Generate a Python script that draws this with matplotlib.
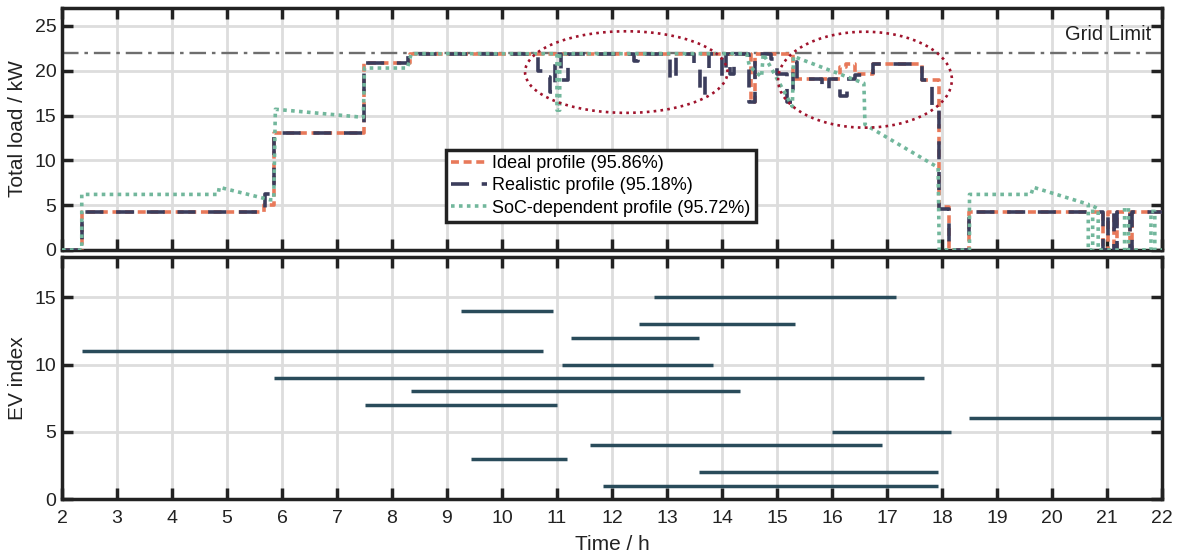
import matplotlib
matplotlib.use("Agg")
import matplotlib.pyplot as plt
from matplotlib.patches import Ellipse

plt.rcParams['font.family'] = ['Liberation Sans', 'DejaVu Sans']

# ---------------- data ----------------
grid_limit = 22.0

# Ideal profile (step, post)
ideal_t = [2.0, 2.36, 5.68, 5.85, 7.50, 8.33, 14.52, 14.60, 15.30, 16.15, 16.25, 16.42, 16.75,
           17.64, 17.94, 18.12, 18.50, 20.92, 21.02, 21.12, 21.18, 21.41, 21.45, 22.0]
ideal_v = [0.0, 4.2, 5.0, 13.0, 20.9, 21.9, 16.5, 21.9, 19.1, 20.4, 20.7, 19.6, 20.7,
           19.0, 4.8, 0.0, 4.2, 0.0, 4.2, 0.0, 4.2, 0.0, 4.2, 4.2]

# Realistic profile (step, post)
real_t = [2.0, 2.36, 5.70, 5.85, 7.50, 8.30, 10.65, 10.80, 10.88, 10.96, 11.08, 11.20,
          12.40, 12.47, 13.05, 13.17, 13.50, 13.60, 13.70, 13.76, 14.00, 14.08, 14.15, 14.22,
          14.50, 14.60, 14.90, 15.00, 15.18, 15.30, 15.36, 15.82, 15.94, 16.15, 16.28, 16.42,
          16.75, 17.64, 17.82, 17.94, 18.12, 18.50, 20.92, 21.02, 21.12, 21.18, 21.41, 21.45, 22.0]
real_v = [0.0, 4.2, 6.3, 13.0, 20.9, 21.9, 20.0, 19.3, 17.6, 21.9, 19.0, 21.9,
          21.1, 21.9, 19.0, 21.9, 20.2, 17.3, 19.5, 21.9, 19.4, 21.9, 19.6, 21.9,
          16.5, 21.9, 21.3, 19.6, 16.5, 21.0, 19.1, 18.0, 19.1, 17.2, 19.1, 19.5,
          20.7, 19.0, 16.0, 4.6, 0.0, 4.2, 0.0, 4.2, 0.0, 4.2, 0.0, 4.2, 4.2]

# SoC-dependent profile (polyline)
soc_t = [2.0, 2.36, 2.36, 4.84, 4.86, 5.78, 5.85, 5.88, 7.48, 7.50, 8.28, 8.35, 11.00, 11.00,
         11.05, 11.05, 14.45, 14.50, 14.72, 14.75, 15.28, 15.30, 16.58, 16.60, 17.93, 17.95,
         18.50, 18.50, 19.62, 19.66, 20.66, 20.66, 20.74, 20.74, 20.84, 20.84, 21.32, 21.32,
         21.39, 21.39, 21.80, 21.80, 21.87, 21.87, 22.0]
soc_v = [0.0, 0.0, 6.2, 6.2, 7.0, 5.6, 5.6, 15.7, 14.8, 20.3, 20.3, 21.9, 21.9, 15.6,
         15.6, 21.9, 21.9, 20.5, 19.3, 21.9, 16.0, 21.6, 18.6, 14.0, 9.2, 0.0,
         0.0, 6.2, 6.2, 7.0, 5.1, 0.0, 0.0, 4.9, 4.6, 0.0, 0.0, 4.7,
         4.7, 0.0, 0.0, 4.3, 4.3, 0.0, 0.0]

legend_labels = ["Ideal profile (95.86%)", "Realistic profile (95.18%)",
                 "SoC-dependent profile (95.72%)"]

# EV presence intervals
ev_index = [1, 2, 3, 4, 5, 6, 7, 8, 9, 10, 11, 12, 13, 14, 15]
ev_start = [11.84, 13.58, 9.43, 11.60, 16.00, 18.50, 7.51, 8.35, 5.85, 11.09, 2.36, 11.26,
            12.50, 9.26, 12.76]
ev_end = [17.92, 17.92, 11.18, 16.91, 18.17, 22.00, 11.00, 14.33, 17.67, 13.83, 10.75, 13.58,
          15.33, 10.92, 17.17]

# ---------------- style ----------------
c_ideal = '#e8795a'
c_real = '#3b3d5c'
c_soc = '#72b79c'
c_ev = '#294b5a'
c_spine = '#222222'
c_text = '#222222'

fig = plt.figure(figsize=(11.78, 5.59), dpi=100)
ax1 = fig.add_axes([0.0526, 0.5528, 0.9338, 0.4329])
ax2 = fig.add_axes([0.0526, 0.1073, 0.9338, 0.4329])

for ax in (ax1, ax2):
    ax.set_xlim(2, 22)
    ax.set_xticks(range(2, 23))
    ax.grid(True, color='#dddddd', linewidth=2.0, zorder=0)
    ax.set_axisbelow(True)
    for s in ax.spines.values():
        s.set_linewidth(2.5)
        s.set_color(c_spine)
    ax.tick_params(direction='in', length=8, width=2.5, color=c_spine,
                   top=True, right=True, labelsize=14, labelcolor=c_text)
    ax.tick_params(axis='x', pad=8)
    ax.tick_params(axis='y', pad=4)

# top panel
ax1.set_ylim(0, 27)
ax1.set_yticks([0, 5, 10, 15, 20, 25])
ax1.tick_params(labelbottom=False)
ax1.axhline(grid_limit, color='#6e6e6e', linewidth=1.7, dashes=(7, 2.5, 1.5, 2.5), zorder=2)
ax1.text(21.8, 23.0, 'Grid Limit', ha='right', va='bottom', fontsize=14.5, color=c_text)

lw = 2.6
l1, = ax1.plot(ideal_t, ideal_v, drawstyle='steps-post', color=c_ideal, linewidth=lw,
               dashes=(2.2, 1.3), label=legend_labels[0], zorder=3)
l2, = ax1.plot(real_t, real_v, drawstyle='steps-post', color=c_real, linewidth=lw,
               dashes=(5.0, 3.5), label=legend_labels[1], zorder=4)
l3, = ax1.plot(soc_t, soc_v, color=c_soc, linewidth=lw,
               dashes=(1.0, 1.2), label=legend_labels[2], zorder=5)

ell_kw = dict(fill=False, edgecolor='#a0142d', linewidth=1.9, linestyle=(0, (1, 1.6)), zorder=6)
ax1.add_patch(Ellipse((12.26, 19.85), 3.68, 9.1, **ell_kw))
ax1.add_patch(Ellipse((16.60, 19.0), 3.16, 10.7, **ell_kw))

leg = ax1.legend(handles=[l1, l2, l3], loc='upper left', bbox_to_anchor=(0.349, 0.415),
                 fontsize=13, frameon=True, fancybox=False, handlelength=2.0,
                 handletextpad=0.25, borderpad=0.3, labelspacing=0.3, borderaxespad=0)
leg.get_frame().set_edgecolor(c_spine)
leg.get_frame().set_linewidth(2.5)
leg.get_frame().set_alpha(1)
leg.set_zorder(10)
ax1.set_ylabel('Total load / kW', fontsize=15, color=c_text)
ax1.yaxis.set_label_coords(-0.032, 0.5)

# bottom panel
ax2.set_ylim(0, 18)
ax2.set_yticks([0, 5, 10, 15])
ax2.hlines(ev_index, ev_start, ev_end, color=c_ev, linewidth=2.5, zorder=3)
ax2.set_ylabel('EV index', fontsize=15, color=c_text)
ax2.yaxis.set_label_coords(-0.032, 0.5)
ax2.set_xlabel('Time / h', fontsize=15, color=c_text, labelpad=6)

fig.savefig('out.png', dpi=100)
